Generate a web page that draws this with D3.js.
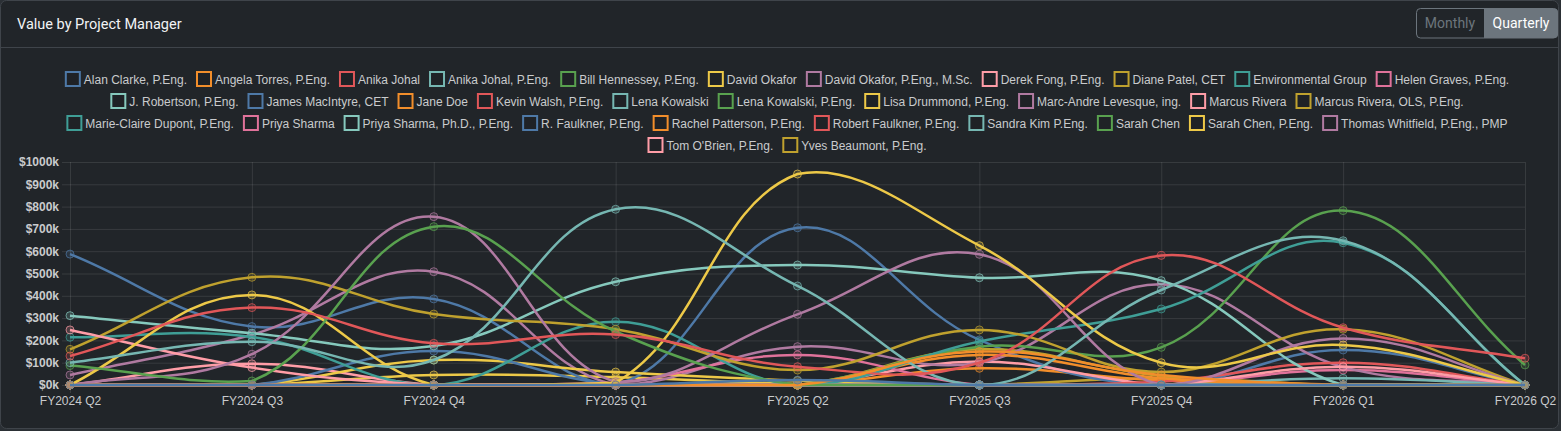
<!DOCTYPE html>
<html>
<head>
<meta charset="utf-8">
<script src="https://cdn.jsdelivr.net/npm/d3@7"></script>
<style>
  html, body { margin: 0; padding: 0; background: #2b3035; }
  svg { display: block; }
</style>
</head>
<body>
<div id="chart"></div>
<script>
var width = 1561;
var height = 431;

var quarters = ["FY2024 Q2", "FY2024 Q3", "FY2024 Q4", "FY2025 Q1", "FY2025 Q2",
                "FY2025 Q3", "FY2025 Q4", "FY2026 Q1", "FY2026 Q2"];

var managers = [
    "Alan Clarke, P.Eng.", "Angela Torres, P.Eng.", "Anika Johal", "Anika Johal, P.Eng.",
    "Bill Hennessey, P.Eng.", "David Okafor", "David Okafor, P.Eng., M.Sc.", "Derek Fong, P.Eng.",
    "Diane Patel, CET", "Environmental Group", "Helen Graves, P.Eng.", "J. Robertson, P.Eng.",
    "James MacIntyre, CET", "Jane Doe", "Kevin Walsh, P.Eng.", "Lena Kowalski",
    "Lena Kowalski, P.Eng.", "Lisa Drummond, P.Eng.", "Marc-Andre Levesque, ing.", "Marcus Rivera",
    "Marcus Rivera, OLS, P.Eng.", "Marie-Claire Dupont, P.Eng.", "Priya Sharma", "Priya Sharma, Ph.D., P.Eng.",
    "R. Faulkner, P.Eng.", "Rachel Patterson, P.Eng.", "Robert Faulkner, P.Eng.", "Sandra Kim P.Eng.",
    "Sarah Chen", "Sarah Chen, P.Eng.", "Thomas Whitfield, P.Eng., PMP", "Tom O'Brien, P.Eng.",
    "Yves Beaumont, P.Eng."
];

// value in $k per quarter, one row per manager (same order as above)
var values = [
    [0, 0, 0, 0, 22, 0, 0, 0, 0],
    [0, 0, 0, 0, 0, 150, 45, 0, 0],
    [130, 347, 187, 226, 82, 100, 581, 257, 120],
    [100, 194, 112, 788, 444, 0, 426, 647, 0],
    [87, 18, 710, 240, 0, 0, 0, 0, 0],
    [0, 404, 0, 10, 946, 625, 100, 179, 0],
    [0, 138, 755, 15, 317, 586, 0, 209, 0],
    [247, 78, 0, 0, 0, 0, 0, 82, 0],
    [160, 483, 318, 250, 67, 247, 58, 250, 0],
    [214, 215, 0, 284, 0, 195, 341, 638, 0],
    [0, 0, 0, 10, 135, 0, 0, 0, 0],
    [311, 232, 175, 463, 538, 481, 468, 0, 0],
    [0, 0, 152, 0, 0, 0, 0, 0, 0],
    [0, 0, 0, 0, 0, 135, 30, 0, 0],
    [0, 0, 0, 0, 0, 0, 15, 100, 0],
    [0, 0, 0, 0, 0, 0, 0, 30, 0],
    [0, 0, 0, 0, 0, 172, 169, 782, 90],
    [0, 0, 112, 58, 20, 0, 0, 0, 0],
    [45, 225, 508, 0, 172, 100, 452, 80, 0],
    [0, 95, 0, 0, 0, 105, 0, 0, 0],
    [0, 0, 0, 0, 0, 160, 40, 0, 0],
    [0, 0, 0, 0, 0, 0, 0, 0, 0],
    [0, 0, 0, 0, 0, 0, 0, 67, 0],
    [0, 0, 0, 0, 0, 0, 0, 0, 0],
    [587, 262, 386, 5, 705, 202, 0, 157, 0],
    [0, 0, 0, 0, 0, 75, 20, 0, 0],
    [0, 0, 0, 0, 0, 0, 0, 0, 0],
    [0, 0, 0, 0, 0, 0, 0, 0, 0],
    [0, 0, 0, 0, 0, 0, 0, 0, 0],
    [0, 0, 45, 35, 5, 0, 0, 0, 0],
    [0, 0, 0, 0, 0, 0, 0, 0, 0],
    [0, 0, 0, 0, 0, 0, 0, 0, 0],
    [0, 0, 0, 0, 0, 0, 30, 0, 0]
];

var yTicks = [0, 100, 200, 300, 400, 500, 600, 700, 800, 900, 1000];

var palette = ["#4e79a7", "#f28e2b", "#e15759", "#76b7b2", "#59a14f", "#edc948",
               "#b07aa1", "#ff9da7", "#bfa12e", "#3f9e96", "#e0729a", "#86c9bd"];

var color = i => palette[i % palette.length];

var textCol = "#c9cbcd";
var gridCol = "rgba(255,255,255,0.1)";
var baseFont = "'Liberation Sans', Arial, sans-serif";

var svg = d3.select("#chart").append("svg")
    .attr("width", width)
    .attr("height", height);

// card
svg.append("rect")
    .attr("x", 0.5).attr("y", 0.5)
    .attr("width", width - 3).attr("height", height - 3)
    .attr("rx", 6)
    .attr("fill", "#212529")
    .attr("stroke", "#3f444a");

svg.append("path")
    .attr("d", "M1,47.5H" + (width - 3))
    .attr("stroke", "#3f444a");

svg.append("text")
    .attr("x", 17).attr("y", 29)
    .attr("fill", "#f1f3f5")
    .style("font", "14.5px Roboto, 'Noto Sans', sans-serif")
    .text("Value by Project Manager");

// Monthly / Quarterly toggle
var btn = svg.append("g").style("font", "14px Roboto, 'Noto Sans', sans-serif");
btn.append("path")
    .attr("d", "M1484,8.5H1554a4,4 0 0 1 4,4V34a4,4 0 0 1 -4,4H1484Z")
    .attr("fill", "#6c757d");
btn.append("rect")
    .attr("x", 1416.5).attr("y", 8.5).attr("width", 141).attr("height", 29.5)
    .attr("rx", 4).attr("fill", "none").attr("stroke", "#6c757d");
btn.append("text").attr("x", 1450).attr("y", 28).attr("text-anchor", "middle")
    .attr("fill", "#6c757d").text("Monthly");
btn.append("text").attr("x", 1521).attr("y", 28).attr("text-anchor", "middle")
    .attr("fill", "#ffffff").text("Quarterly");

// legend
var legend = svg.append("g").style("font", "12px " + baseFont);
var legendItems = managers.map((name, i) => {
    var t = legend.append("text").attr("fill", textCol).text(name);
    return {name: name, i: i, node: t, w: t.node().getComputedTextLength()};
});

var boxSize = 14;
var maxRow = 1530;
var rows = [[]];
var rowW = 0;
legendItems.forEach(d => {
    var w = boxSize + 5 + d.w + 9;
    if (rowW + w > maxRow && rows[rows.length - 1].length) {
        rows.push([]);
        rowW = 0;
    }
    rows[rows.length - 1].push(d);
    d.iw = w;
    rowW += w;
});

rows.forEach((row, r) => {
    var total = d3.sum(row, d => d.iw) - 9;
    var lx = 787 - total / 2;
    var cy = 79 + r * 22;
    row.forEach(d => {
        legend.append("rect")
            .attr("x", lx + 1).attr("y", cy - boxSize / 2)
            .attr("width", boxSize).attr("height", boxSize)
            .attr("fill", "#1f2226")
            .attr("stroke", color(d.i))
            .attr("stroke-width", 2);
        d.node.attr("x", lx + boxSize + 5).attr("y", cy + 4.5);
        lx += d.iw;
    });
});

// plot area
var plotL = 70, plotR = 1525, plotT = 162, plotB = 385;

var x = d3.scalePoint().domain(quarters).range([plotL, plotR]);
var y = d3.scaleLinear().domain([0, 1000]).range([plotB, plotT]);

var grid = svg.append("g").attr("stroke", gridCol);
grid.selectAll(".h").data(yTicks).join("line")
    .attr("class", "h")
    .attr("x1", plotL - 8).attr("x2", plotR)
    .attr("y1", d => y(d) + 0.5).attr("y2", d => y(d) + 0.5);
grid.selectAll(".v").data(quarters).join("line")
    .attr("class", "v")
    .attr("x1", d => x(d) + 0.5).attr("x2", d => x(d) + 0.5)
    .attr("y1", plotT).attr("y2", plotB + 8);

var yAxis = svg.append("g")
    .attr("transform", `translate(${plotL},0)`)
    .call(d3.axisLeft(y).tickValues(yTicks).tickSize(0).tickPadding(11)
        .tickFormat(d => "$" + d + "k"));
yAxis.select(".domain").remove();
yAxis.selectAll("text")
    .attr("fill", textCol)
    .style("font", "bold 12px " + baseFont);

var xAxis = svg.append("g")
    .attr("transform", `translate(0,${plotB})`)
    .call(d3.axisBottom(x).tickSize(0).tickPadding(11));
xAxis.select(".domain").remove();
xAxis.selectAll("text")
    .attr("fill", textCol)
    .style("font", "12px " + baseFont);

svg.append("clipPath").attr("id", "area")
    .append("rect")
    .attr("x", plotL - 2).attr("y", plotT - 2)
    .attr("width", plotR - plotL + 4).attr("height", plotB - plotT + 4);

// bezier spline with tension, like the chart library that drew the original
function spline(pts, t) {
    var cap = v => Math.max(plotT, Math.min(plotB, v));
    var capx = v => Math.max(plotL, Math.min(plotR, v));
    var cps = pts.map((p, i) => {
        var prev = pts[i - 1] || p, next = pts[i + 1] || p;
        var d01 = Math.hypot(p[0] - prev[0], p[1] - prev[1]);
        var d12 = Math.hypot(next[0] - p[0], next[1] - p[1]);
        var s01 = d01 / (d01 + d12), s12 = d12 / (d01 + d12);
        if (isNaN(s01)) s01 = 0;
        if (isNaN(s12)) s12 = 0;
        var fa = t * s01, fb = t * s12;
        return {
            prev: [capx(p[0] - fa * (next[0] - prev[0])), cap(p[1] - fa * (next[1] - prev[1]))],
            next: [capx(p[0] + fb * (next[0] - prev[0])), cap(p[1] + fb * (next[1] - prev[1]))]
        };
    });
    var path = d3.path();
    path.moveTo(pts[0][0], pts[0][1]);
    for (var i = 1; i < pts.length; i++) {
        path.bezierCurveTo(cps[i - 1].next[0], cps[i - 1].next[1],
            cps[i].prev[0], cps[i].prev[1], pts[i][0], pts[i][1]);
    }
    return path.toString();
}

var series = managers.map((name, i) => ({
    name: name,
    i: i,
    pts: values[i].map((v, j) => [x(quarters[j]), y(v)])
}));

// first dataset ends up on top
var plot = svg.append("g");
series.slice().reverse().forEach(s => {
    var g = plot.append("g");
    g.append("path")
        .attr("clip-path", "url(#area)")
        .attr("d", spline(s.pts, 0.4))
        .attr("fill", "none")
        .attr("stroke", color(s.i))
        .attr("stroke-width", 2.5);
    g.selectAll("circle").data(s.pts).join("circle")
        .attr("cx", d => d[0]).attr("cy", d => d[1])
        .attr("r", 4)
        .attr("fill", color(s.i)).attr("fill-opacity", 0.2)
        .attr("stroke", color(s.i)).attr("stroke-opacity", 0.7)
        .attr("stroke-width", 1);
});
</script>
</body>
</html>
